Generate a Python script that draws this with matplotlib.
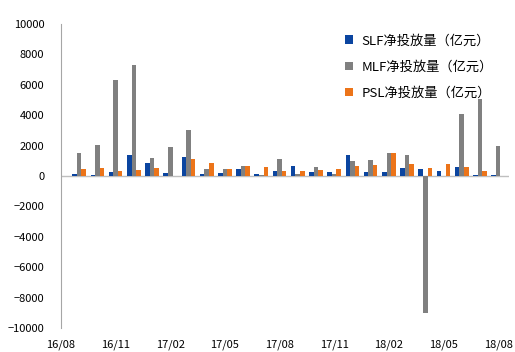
import numpy as np
import matplotlib.pyplot as plt

plt.rcParams['font.family'] = ['Noto Sans CJK SC', 'DejaVu Sans']

# monthly net injection, 16/09 .. 18/08 (亿元)
months = ["16/09", "16/10", "16/11", "16/12", "17/01", "17/02", "17/03", "17/04",
          "17/05", "17/06", "17/07", "17/08", "17/09", "17/10", "17/11", "17/12",
          "18/01", "18/02", "18/03", "18/04", "18/05", "18/06", "18/07", "18/08"]
slf = [100, 90, 260, 1410, 880, 200, 1280, 150,
       200, 460, 150, 330, 680, 260, 280, 1360,
       290, 290, 530, 460, 350, 620, 80, 80]
mlf = [1540, 2070, 6300, 7280, 1210, 1930, 3050, 460,
       490, 680, 50, 1140, 150, 620, 100, 1000,
       1080, 1540, 1410, -9000, 0, 4060, 5050, 2000]
psl = [460, 530, 330, 400, 530, 0, 1140, 880,
       490, 680, 620, 330, 330, 420, 460, 680,
       750, 1540, 820, 530, 820, 620, 350, 0]

tick_pos = np.arange(0, 25, 3)
tick_labels = ["16/08", "16/11", "17/02", "17/05", "17/08",
               "17/11", "18/02", "18/05", "18/08"]

series = [
    ("SLF净投放量（亿元）", slf, "#0B45A0"),
    ("MLF净投放量（亿元）", mlf, "#808080"),
    ("PSL净投放量（亿元）", psl, "#EC7419"),
]

fig = plt.figure(figsize=(5.15, 3.52), dpi=100)
ax = fig.add_axes([0.1184, 0.068, 0.87, 0.864])

x = np.arange(1, len(months) + 1)
w = 0.25
for i, (name, vals, color) in enumerate(series):
    ax.bar(x + (i - 1) * w, vals, width=w, color=color, label=name, zorder=3)

ax.axhline(0, color="#BFBFBF", linewidth=1, zorder=2)

ax.set_xlim(0, 24.6)
ax.set_ylim(-10000, 10000)
ax.set_yticks(np.arange(-10000, 10001, 2000))
ax.set_xticks(tick_pos)
ax.set_xticklabels(tick_labels)
ax.tick_params(axis="both", length=0, labelsize=8, colors="#000000")
ax.tick_params(axis="y", pad=12)
ax.tick_params(axis="x", pad=8)

for side in ["top", "right", "bottom"]:
    ax.spines[side].set_visible(False)
ax.spines["left"].set_color("#A6A6A6")

ax.legend(loc="upper right", bbox_to_anchor=(0.99, 1.005), frameon=False,
          fontsize=9.5, handlelength=0.6, handleheight=0.6, handletextpad=0.6,
          labelspacing=1.0)

fig.savefig("out.png", dpi=100)
